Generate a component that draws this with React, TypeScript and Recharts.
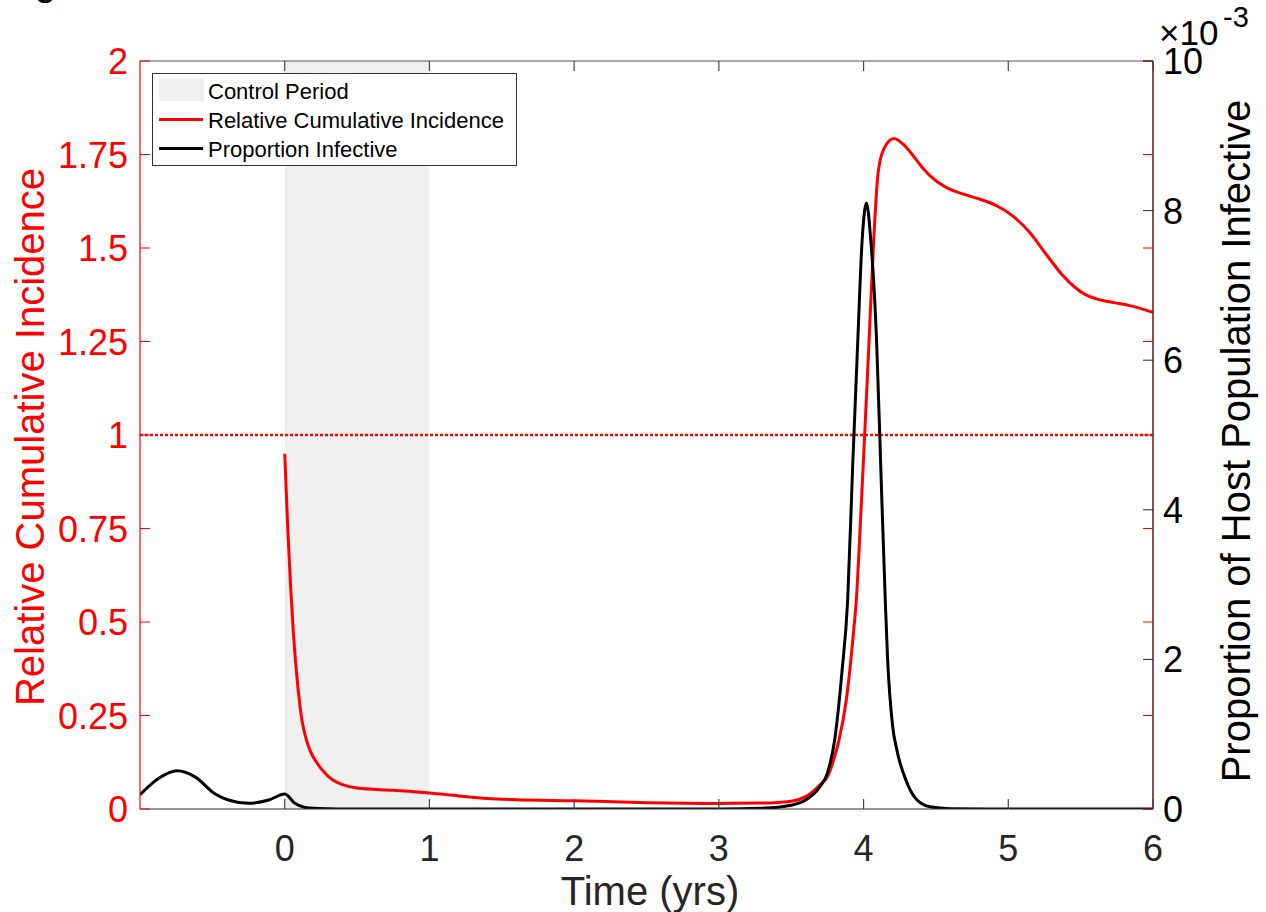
import {
  ComposedChart,
  Line,
  XAxis,
  YAxis,
  ReferenceArea,
  ReferenceLine,
} from "recharts";

const RED_T = [
  0, 0.02, 0.04, 0.06, 0.09, 0.12, 0.15, 0.18, 0.22, 0.26, 0.33, 0.4, 0.5, 0.75, 1.0, 1.2, 1.4, 1.6, 2.0,
  2.5, 3.0, 3.3, 3.5, 3.6, 3.7, 3.75, 3.8, 3.83, 3.88, 3.93, 3.95, 3.98, 4.01, 4.04, 4.07, 4.1, 4.14, 4.21,
  4.28, 4.34, 4.4, 4.46, 4.57, 4.69, 4.8, 4.92, 5.03, 5.15, 5.26, 5.38, 5.46, 5.53, 5.61, 5.73, 5.84, 6.0,
];
const RED_V = [
  0.95, 0.76, 0.6, 0.47, 0.33, 0.235, 0.185, 0.152, 0.125, 0.104, 0.078, 0.065, 0.056, 0.05, 0.043, 0.035,
  0.028, 0.025, 0.022, 0.017, 0.015, 0.016, 0.021, 0.033, 0.065, 0.086, 0.14, 0.184, 0.29, 0.47, 0.56,
  0.78, 1.02, 1.27, 1.52, 1.7, 1.765, 1.793, 1.775, 1.748, 1.718, 1.693, 1.662, 1.644, 1.631, 1.613, 1.586,
  1.541, 1.484, 1.425, 1.395, 1.376, 1.364, 1.354, 1.346, 1.328,
];

const BLACK_T = [
  -1, -0.87, -0.745, -0.62, -0.48, -0.39, -0.25, -0.11, 0, 0.07, 0.17, 0.3, 0.5, 1, 2, 3, 3.3, 3.5, 3.6,
  3.7, 3.75, 3.8, 3.85, 3.89, 3.925, 3.96, 3.99, 4.02, 4.05, 4.09, 4.12, 4.15, 4.165, 4.2, 4.23, 4.3, 4.37,
  4.46, 4.6, 5, 6,
];
// x 10^-3
const BLACK_V = [
  0.19, 0.41, 0.51, 0.43, 0.2, 0.12, 0.076, 0.12, 0.2, 0.076, 0.012, 0.002, 0, 0, 0, 0, 0.01, 0.05, 0.12,
  0.3, 0.48, 0.92, 1.82, 2.79, 4.6, 6.26, 7.6, 8.1, 7.6, 6.26, 4.5, 2.79, 2.05, 1.12, 0.79, 0.35, 0.12,
  0.03, 0.005, 0, 0,
];

const X_TICKS = [0, 1, 2, 3, 4, 5, 6];
const LEFT_TICKS = [0, 0.25, 0.5, 0.75, 1, 1.25, 1.5, 1.75, 2];
const LEFT_LABELS = ["0", "0.25", "0.5", "0.75", "1", "1.25", "1.5", "1.75", "2"];
const RIGHT_TICKS = [0, 0.002, 0.004, 0.006, 0.008, 0.01];
const RIGHT_LABELS = ["0", "2", "4", "6", "8", "10"];

const redData = RED_T.map((t, i) => ({ t, v: RED_V[i] }));
const blackData = BLACK_T.map((t, i) => ({ t, v: BLACK_V[i] / 1000 }));

const FONT = "'Liberation Sans', Arial, Helvetica, sans-serif";
const PLOT_LEFT = 140;
const PLOT_RIGHT = 1153;
const PLOT_TOP = 61;
const PLOT_BOTTOM = 809;
const TICK = 10;

function LeftTick(props: any) {
  const { y, index } = props;
  return (
    <g>
      <line x1={PLOT_LEFT} x2={PLOT_LEFT + TICK} y1={y} y2={y} stroke="#ff0000" strokeWidth={1} />
      <line x1={PLOT_RIGHT - TICK} x2={PLOT_RIGHT} y1={y} y2={y} stroke="#ff0000" strokeWidth={1} />
      <text x={PLOT_LEFT - 12} y={y + 13} textAnchor="end" fontSize={36} fill="#ff0000" fontFamily={FONT}>
        {LEFT_LABELS[index]}
      </text>
    </g>
  );
}

function RightTick(props: any) {
  const { y, index } = props;
  return (
    <g>
      <line x1={PLOT_RIGHT - TICK} x2={PLOT_RIGHT} y1={y} y2={y} stroke="#262626" strokeWidth={1} />
      <text x={PLOT_RIGHT + 10} y={y + 13} textAnchor="start" fontSize={36} fill="#000" fontFamily={FONT}>
        {RIGHT_LABELS[index]}
      </text>
    </g>
  );
}

function BottomTick(props: any) {
  const { x, payload } = props;
  return (
    <g>
      <line x1={x} x2={x} y1={PLOT_BOTTOM} y2={PLOT_BOTTOM - TICK} stroke="#444" strokeWidth={1.2} />
      <line x1={x} x2={x} y1={PLOT_TOP} y2={PLOT_TOP + TICK} stroke="#444" strokeWidth={1.2} />
      <text x={x} y={PLOT_BOTTOM + 52} textAnchor="middle" fontSize={36} fill="#262626" fontFamily={FONT}>
        {payload.value}
      </text>
    </g>
  );
}

export default function App() {
  return (
    <div style={{ position: "absolute", left: 0, top: 0, width: 1266, height: 912, background: "#fff" }}>
      <ComposedChart
        width={1266}
        height={912}
        margin={{ top: PLOT_TOP, right: 0, bottom: 0, left: 0 }}
        style={{ fontFamily: FONT }}
      >
        <XAxis
          type="number"
          dataKey="t"
          domain={[-1, 6]}
          ticks={X_TICKS}
          interval={0}
          height={912 - PLOT_BOTTOM}
          axisLine={false}
          tickLine={false}
          tickSize={0}
          tickMargin={0}
          tick={(p: any) => <BottomTick {...p} />}
          allowDataOverflow
        />
        <YAxis
          yAxisId="left"
          domain={[0, 2]}
          ticks={LEFT_TICKS}
          interval={0}
          width={PLOT_LEFT}
          axisLine={false}
          tickLine={false}
          tickSize={0}
          tickMargin={0}
          tick={(p: any) => <LeftTick {...p} />}
          allowDataOverflow
        />
        <YAxis
          yAxisId="right"
          orientation="right"
          domain={[0, 0.01]}
          ticks={RIGHT_TICKS}
          interval={0}
          width={1266 - PLOT_RIGHT}
          axisLine={false}
          tickLine={false}
          tickSize={0}
          tickMargin={0}
          tick={(p: any) => <RightTick {...p} />}
          allowDataOverflow
        />
        <ReferenceArea
          yAxisId="left"
          x1={0}
          x2={1}
          y1={0}
          y2={2}
          fill="#f0f0f0"
          fillOpacity={1}
          stroke="none"
        />
        <ReferenceLine yAxisId="left" y={1} stroke="#ff0000" strokeWidth={2.5} strokeDasharray="3 2" />
        <Line
          yAxisId="left"
          data={redData}
          dataKey="v"
          type="monotone"
          stroke="#ff0000"
          strokeWidth={3}
          dot={false}
          activeDot={false}
          isAnimationActive={false}
        />
        <Line
          yAxisId="right"
          data={blackData}
          dataKey="v"
          type="monotone"
          stroke="#000000"
          strokeWidth={3}
          dot={false}
          activeDot={false}
          isAnimationActive={false}
        />
        <ReferenceLine yAxisId="left" y={2} stroke="#555" strokeWidth={1} />
        <ReferenceLine yAxisId="left" y={0} stroke="#333" strokeWidth={1.2} />
        <ReferenceLine yAxisId="left" x={-1} stroke="#ff0000" strokeWidth={1.2} />
        <ReferenceLine yAxisId="left" x={6} stroke="#5a1c1c" strokeWidth={1.5} />
      </ComposedChart>

      <svg
        width={1266}
        height={912}
        style={{ position: "absolute", left: 0, top: 0, pointerEvents: "none" }}
        fontFamily={FONT}
      >
        <text x={1} y={-5} fontSize={40} fill="#000">
          Figure
        </text>
        <text x={44} y={437} transform="rotate(-90 44 437)" textAnchor="middle" fontSize={40} fill="#ff0000">
          Relative Cumulative Incidence
        </text>
        <text x={1250} y={441} transform="rotate(-90 1250 441)" textAnchor="middle" fontSize={40} fill="#000">
          Proportion of Host Population Infective
        </text>
        <text x={650} y={905} textAnchor="middle" fontSize={40} fill="#262626">
          Time (yrs)
        </text>
        <text x={1159} y={45} fontSize={35} fill="#000">
          {"\u00d710"}
        </text>
        <text x={1223} y={27} fontSize={29} fill="#000">
          -3
        </text>

        <rect x={152.5} y={73.5} width={364} height={92} fill="#fff" stroke="#333" strokeWidth={1} />
        <rect x={159} y={79} width={45} height={22} fill="#f0f0f0" />
        <text x={208} y={99} fontSize={22} fill="#000">
          Control Period
        </text>
        <line x1={159} x2={203} y1={119.5} y2={119.5} stroke="#ff0000" strokeWidth={3} />
        <text x={208} y={128} fontSize={22} fill="#000">
          Relative Cumulative Incidence
        </text>
        <line x1={159} x2={203} y1={148.5} y2={148.5} stroke="#000" strokeWidth={3} />
        <text x={208} y={157} fontSize={22} fill="#000">
          Proportion Infective
        </text>
      </svg>
    </div>
  );
}
